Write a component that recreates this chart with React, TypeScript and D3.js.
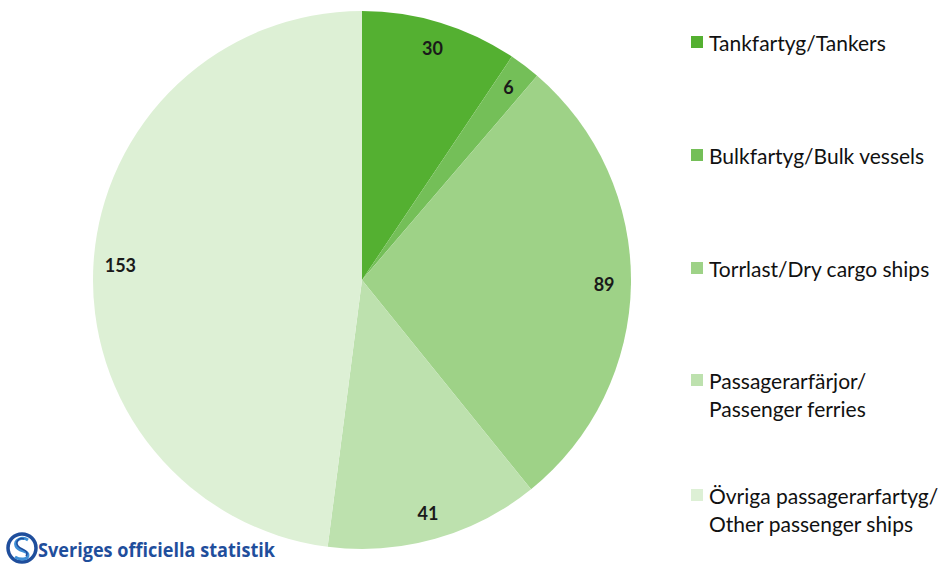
import * as d3 from "d3";
import React from "react";

const categories = [
  "Tankfartyg/Tankers",
  "Bulkfartyg/Bulk vessels",
  "Torrlast/Dry cargo ships",
  "Passagerarfärjor/\nPassenger ferries",
  "Övriga passagerarfartyg/\nOther passenger ships",
];
const values = [30, 6, 89, 41, 153];
const colors = ["#54B031", "#74BF58", "#9ED287", "#BDE1AE", "#DDF0D5"];
const legendY = [42, 155, 268, 380, 495];

const W = 942;
const H = 565;
const cx = 362;
const cy = 280;
const R = 269;

export default function App() {
  const pie = d3
    .pie<number>()
    .sort(null)
    .value((d) => d);
  const arcs = pie(values);
  const arc = d3.arc<d3.PieArcDatum<number>>().innerRadius(0).outerRadius(R);
  const labelArc = d3
    .arc<d3.PieArcDatum<number>>()
    .innerRadius(R * 0.9)
    .outerRadius(R * 0.9);

  return (
    <svg
      width={W}
      height={H}
      style={{ position: "absolute", left: 0, top: 0, background: "#fff" }}
      fontFamily="Lato, 'Open Sans', sans-serif"
    >
      <g transform={`translate(${cx},${cy})`}>
        {arcs.map((a, i) => (
          <path key={i} d={arc(a) || ""} fill={colors[i]} />
        ))}
        {arcs.map((a, i) => {
          const [x, y] = labelArc.centroid(a);
          return (
            <text
              key={i}
              x={x}
              y={y}
              textAnchor="middle"
              dominantBaseline="central"
              fontSize={18}
              fontWeight="bold"
              fill="#1a1a1a"
            >
              {a.data}
            </text>
          );
        })}
      </g>
      {categories.map((c, i) => (
        <g key={i} transform={`translate(691,${legendY[i]})`}>
          <rect x={0} y={-6} width={12} height={12} fill={colors[i]} />
          {c.split("\n").map((line, j) => (
            <text
              key={j}
              x={18}
              y={j * 28}
              dominantBaseline="central"
              fontSize={21}
              fill="#111"
            >
              {line}
            </text>
          ))}
        </g>
      ))}
      <g transform="translate(22,548)">
        <circle r={14} fill="none" stroke="#1f4e9c" strokeWidth={3.5} />
        <path
          d="M6,-8 C0,-12 -8,-8 -6,-2 C-4,4 6,2 6,7 C6,12 -2,12 -7,9"
          fill="none"
          stroke="#3d8fd6"
          strokeWidth={3}
        />
        <path
          d="M2,-9 C-3,-11 -7,-6 -4,-2 C-1,2 8,2 4,8"
          fill="none"
          stroke="#1f4e9c"
          strokeWidth={1.5}
        />
      </g>
      <text
        x={38}
        y={557}
        fontSize={19}
        fontWeight="bold"
        fill="#1f4e9c"
        textLength={237}
        lengthAdjust="spacingAndGlyphs"
        fontFamily="'Open Sans', sans-serif"
      >
        Sveriges officiella statistik
      </text>
    </svg>
  );
}
